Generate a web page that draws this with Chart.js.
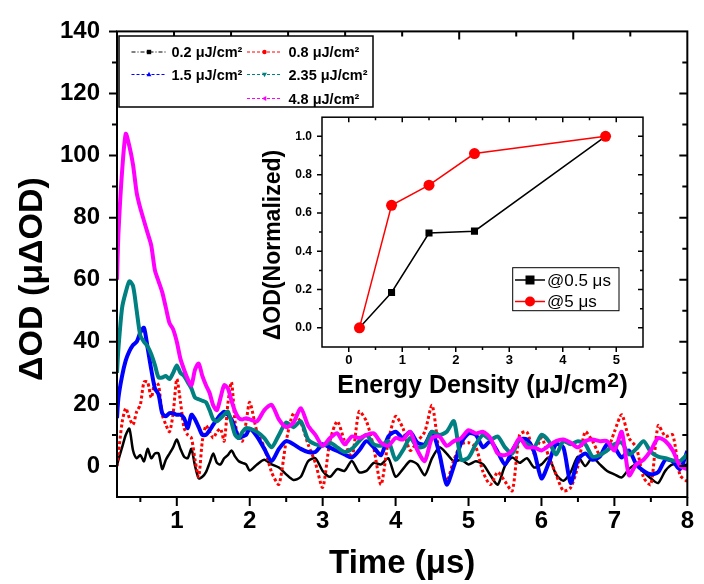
<!DOCTYPE html>
<html><head><meta charset="utf-8">
<script src="https://cdn.jsdelivr.net/npm/chart.js@4.4.0/dist/chart.umd.min.js"></script>
<style>
html,body{margin:0;padding:0;background:#fff;}
#wrap{position:relative;width:704px;height:584px;overflow:hidden;}
#main{position:absolute;left:0;top:0;width:704px;height:584px;}
#inset{position:absolute;left:240px;top:100px;width:420px;height:310px;}
</style></head><body>
<div id="wrap"><canvas id="main" width="704" height="584"></canvas><canvas id="inset" width="420" height="310"></canvas></div>
<script>
// ---------- data ----------
const time = [0.18,0.2,0.25,0.3,0.35,0.4,0.45,0.5,0.55,0.6,0.65,0.7,0.75,0.8,0.85,0.9,0.95,1.0,1.05,1.1,1.15,1.2,1.25,1.3,1.35,1.4,1.45,1.5,1.55,1.6,1.65,1.7,1.75,1.8,1.85,1.9,1.95,2.0,
 2.1,2.2,2.3,2.4,2.5,2.6,2.7,2.8,2.9,3.0,3.1,3.2,3.3,3.4,3.5,3.6,3.7,3.8,3.9,4.0,4.1,4.2,4.3,4.4,4.5,4.6,4.7,4.8,4.9,5.0,
 5.1,5.2,5.3,5.4,5.5,5.6,5.7,5.8,5.9,6.0,6.1,6.2,6.3,6.4,6.5,6.6,6.7,6.8,6.9,7.0,7.1,7.2,7.3,7.4,7.5,7.6,7.7,7.8,7.9,8.0];
const od_0_2 = [0,2,6,10,12,5,2.5,3.5,1.5,5.5,2.5,4,4,-1,2,4,6,8.5,5.5,3,2.5,5.5,0,-4,-3.5,-2,1,4,1,0.5,2.5,3.5,5,3,1.5,1,0.5,-1.5,
 0.5,2,0.5,-0.5,-2.7,-4.5,-3.5,1.5,2.5,-1.6,-3.5,-1,-1.6,1.6,-2,-1.6,1,0.5,2.5,-3.5,-1,1.6,0.5,-3,2.5,6,4,1.5,2,0.5,
 1.5,0.5,-3,-6,0,2.7,1,2.5,-0.5,0.5,2.7,-2.7,-4.8,-2,3,0,2.7,0.5,-1.6,-2.7,-3.7,-1,0.5,-2,-4,-5.5,-1.5,0.5,0,0.5];
const od_0_8 = [0,4,14,18.6,15.4,13.3,17.5,19.7,27,27,22,27,26,16.5,13.3,11,17,28,20.7,12.2,10,9,2,-3.5,8,13,11,9,11,12,8,20,27,14,9,8,14,20.5,
 11,6,-2,-5.9,8,17,14,7,1,-6.9,8,14.4,8,2.7,17.5,14.4,5.9,-6,8,16,12.2,5,8,11,19.5,4,-4.8,2,7,7.5,
 6,-2,-6,-2,-5,-8,10,11,4,9,3,-2.7,-8,-7,0,11,8,3.7,5,11,16.5,9,6,-3.7,-6,13,9.5,10,-3,-5];
const od_1_5 = [15.4,22,29,34,37,39,40,43,44.5,38,31,25,23,17,16,17,17,16.5,16.5,15.4,12.2,16.5,15,12.5,10,10,11.5,13.3,15,16.5,17.5,16.5,15,12,9,9.5,10,12,
 9.5,5.5,1.6,5.5,8,7,5.5,4.5,4.5,7,5.9,4.8,3.7,2.7,5,8,6,3.5,9.5,11,9,11,7.5,7,11,4,-6,0,7.5,10.5,
 10,6,8,4.5,0.5,5,8.5,8.5,4.5,-4,1,7,6,-5.5,2,4,2,3,7,6,2.7,5,0.5,-1.6,-2.7,-2,2,1.5,-1,4.8];
const od_2_35 = [30,38,51,56,59.5,58,50,42,40,38.5,36,32.5,28.5,28.5,29,28,30,32.4,30,29,27,25,22,21.5,21,20.5,18,15,14.4,15.4,16.5,17.5,14,10,9,11,12.2,12,
 11,9,6,10,14,12.5,14.4,8.5,7,6.5,7.5,6,4.5,5.5,8,10,7,6.5,8,2,5,9,6,6.5,11,10,11,14.4,2,2.7,
 7,10,8.5,9.5,6,4,8.5,7,6,10,8,3.7,8,7,8,7,3,3.5,5,7,7.5,3.7,5.5,8,4.5,3,2.5,1.8,1.6,3.7];
const od_4_8 = [60,75,95,107,103,97,88,83,79,75,71,63,59.5,56,51,46,44,40,34.5,31,28,26,31,33,29,26,23.5,19.5,18,22,26,25,21,17.5,15.4,15,15.4,15,
 14.4,18,19.7,15,12.5,14,18.6,13,10,6.5,9,10.5,7,9.5,9,10,10.5,7.5,6.5,9,8.5,11,5,1.6,9,9.5,6.5,8,9,11.5,
 10.5,11,9,4,3.5,5,9,6,6,5,6.5,8,8.5,7.5,6,8,8.5,8,8,5,11,-3,0.5,2,5,9,8,5,0,-1];
const energyLabels = ['0.2','0.8','1.5','2.35','4.8'];
const xTickLabels = [1,2,3,4,5,6,7,8];
const yTickLabels = [0,20,40,60,80,100,120,140];

// inset
const energy = [0.2,0.8,1.5,2.35,4.8];
const norm_at_0_5us = [0,0.185,0.495,0.505,1.0];
const norm_at_5us = [0,0.64,0.745,0.91,1.0];
const insetXTicks = [0,1,2,3,4,5];
const insetYTicks = [0.0,0.2,0.4,0.6,0.8,1.0];

// ---------- styles ----------
const FF = '"Liberation Sans", Arial, Helvetica, sans-serif';
const seriesValues = [od_0_2, od_0_8, od_1_5, od_2_35, od_4_8];
const seriesColors = ['#000000','#ff0000','#0000ff','#008080','#ff00ff'];
const seriesWidth = [2.5,3,4,4,4];
const seriesDash = [[],[3,2.5],[],[],[]];
const seriesOrder = [4,3,2,1,0];
const legendMarkers = ['square','circle','triUp','triDown','triLeft'];

function marker(ctx, kind, x, y, s){
  ctx.beginPath();
  if(kind==='square'){ctx.rect(x-s,y-s,2*s,2*s);}
  else if(kind==='circle'){ctx.arc(x,y,s,0,Math.PI*2);}
  else if(kind==='triUp'){ctx.moveTo(x,y-s*1.2);ctx.lineTo(x+s*1.1,y+s*0.8);ctx.lineTo(x-s*1.1,y+s*0.8);ctx.closePath();}
  else if(kind==='triDown'){ctx.moveTo(x,y+s*1.2);ctx.lineTo(x+s*1.1,y-s*0.8);ctx.lineTo(x-s*1.1,y-s*0.8);ctx.closePath();}
  else if(kind==='triLeft'){ctx.moveTo(x-s*1.2,y);ctx.lineTo(x+s*0.8,y-s*1.1);ctx.lineTo(x+s*0.8,y+s*1.1);ctx.closePath();}
  ctx.fill();
}

const mainDecor = {
  id:'mainDecor',
  afterDraw(chart){
    const {ctx, chartArea:a, scales} = chart;
    const x = scales.x, y = scales.y, xt = scales.xTop;
    ctx.save();
    ctx.strokeStyle='#000'; ctx.lineWidth=2;
    ctx.strokeRect(a.left, a.top, a.right-a.left, a.bottom-a.top);
    ctx.beginPath();
    for(let k=-1;k<=14;k++){
      const v=k*10, p=y.getPixelForValue(v), L=(k%2===0)?8:5;
      if(k>-1){ctx.moveTo(a.left,p);ctx.lineTo(a.left-L,p);}
      if(k>-1 && k<14){ctx.moveTo(a.right,p);ctx.lineTo(a.right-L,p);}
    }
    for(let k=1;k<=16;k++){
      const p=x.getPixelForValue(k/2), L=(k%2===0)?9:5;
      ctx.moveTo(p,a.bottom);ctx.lineTo(p,a.bottom+L);
    }
    for(let k=1;k<10;k++){
      const p=xt.getPixelForValue(k/2), L=(k%2===0)?8:5;
      ctx.moveTo(p,a.top);ctx.lineTo(p,a.top+L);
    }
    ctx.stroke();

    // axis titles
    ctx.fillStyle='#000';
    ctx.font='bold 33px '+FF;
    ctx.textAlign='center'; ctx.textBaseline='alphabetic';
    ctx.fillText('Time (μs)', (a.left+a.right)/2, 573);
    ctx.save();
    ctx.translate(42, 279); ctx.rotate(-Math.PI/2);
    ctx.font='bold 34px '+FF;
    ctx.fillText('ΔOD (μΔOD)', 0, 0);
    ctx.restore();

    // legend
    const L0={x:119,y:36,w:254,h:71};
    ctx.fillStyle='#fff'; ctx.fillRect(L0.x,L0.y,L0.w,L0.h);
    ctx.strokeStyle='#000'; ctx.lineWidth=1.5; ctx.strokeRect(L0.x,L0.y,L0.w,L0.h);
    const colX=[131.5,247], textX=[171.5,288.5], rowY=[52,74.5,98.5];
    const pos=[[0,0],[1,0],[0,1],[1,1],[1,2]];
    ctx.font='bold 14.5px '+FF; ctx.textAlign='left'; ctx.textBaseline='middle';
    for(let i=0;i<5;i++){
      const c=pos[i][0], r=pos[i][1], yy=rowY[r];
      ctx.strokeStyle=seriesColors[i]; ctx.lineWidth=1;
      ctx.setLineDash(i===0?[4,2,1,2]:[3,2]);
      ctx.beginPath(); ctx.moveTo(colX[c],yy); ctx.lineTo(colX[c]+35,yy); ctx.stroke();
      ctx.setLineDash([]);
      ctx.fillStyle=seriesColors[i];
      marker(ctx, legendMarkers[i], colX[c]+17.5, yy, 2.2);
      ctx.fillStyle='#000';
      ctx.fillText(energyLabels[i]+' μJ/cm²', textX[c], yy+1);
    }
    ctx.restore();
  }
};

new Chart(document.getElementById('main'), {
  type:'scatter',
  data:{
    datasets: seriesValues.map((vals,i)=>({
      label: energyLabels[i]+' μJ/cm²',
      data: time.map((t,j)=>({x:t,y:vals[j]})),
      showLine:true,
      borderColor: seriesColors[i],
      backgroundColor: seriesColors[i],
      borderWidth: seriesWidth[i],
      borderDash: seriesDash[i],
      pointRadius:0,
      tension:0.25,
      order: seriesOrder[i]
    }))
  },
  options:{
    responsive:false, animation:false,
    layout:{padding:{left:0,right:10,top:27,bottom:0}},
    plugins:{legend:{display:false}, tooltip:{enabled:false}},
    scales:{
      x:{type:'linear', position:'bottom', min:0.18, max:8,
         afterBuildTicks:(s)=>{s.ticks=xTickLabels.map(v=>({value:v}));},
         afterFit:(s)=>{s.height=87;},
         grid:{display:false, drawTicks:false}, border:{display:false},
         ticks:{color:'#000', font:{family:FF, size:24, weight:'bold'}, padding:10, maxRotation:0}},
      xTop:{type:'linear', position:'top', min:0, max:5, display:false},
      y:{type:'linear', position:'left', min:-10, max:140,
         afterBuildTicks:(s)=>{s.ticks=yTickLabels.map(v=>({value:v}));},
         afterFit:(s)=>{s.width=117;},
         grid:{display:false, drawTicks:false}, border:{display:false},
         ticks:{color:'#000', font:{family:FF, size:24, weight:'bold'}, padding:17}}
    }
  },
  plugins:[mainDecor]
});

// ---------- inset ----------
const insetDecor = {
  id:'insetDecor',
  afterDraw(chart){
    const {ctx, chartArea:a, scales} = chart;
    const x=scales.x, y=scales.y;
    ctx.save();
    ctx.strokeStyle='#000'; ctx.lineWidth=1.5;
    ctx.strokeRect(a.left,a.top,a.right-a.left,a.bottom-a.top);
    ctx.beginPath();
    for(let k=0;k<=10;k++){
      const p=y.getPixelForValue(k/10), L=(k%2===0)?5:3;
      ctx.moveTo(a.left,p);ctx.lineTo(a.left-L,p);
      ctx.moveTo(a.right,p);ctx.lineTo(a.right-L,p);
    }
    for(let k=0;k<=10;k++){
      const p=x.getPixelForValue(k/2), L=(k%2===0)?5:3;
      ctx.moveTo(p,a.bottom);ctx.lineTo(p,a.bottom+L);
      ctx.moveTo(p,a.top);ctx.lineTo(p,a.top+L);
    }
    ctx.stroke();
    // titles
    ctx.fillStyle='#000';
    ctx.save();
    ctx.translate(40,145); ctx.rotate(-Math.PI/2);
    ctx.font='bold 23px '+FF; ctx.textAlign='center'; ctx.textBaseline='alphabetic';
    ctx.fillText('ΔOD(Normalized)',0,0);
    ctx.restore();
    const p1='Energy Density (μJ/cm', p2='2', p3=')';
    ctx.font='bold 25px '+FF; const w1=ctx.measureText(p1).width, w3=ctx.measureText(p3).width;
    ctx.font='bold 21px '+FF; const w2=ctx.measureText(p2).width;
    const cx=(a.left+a.right)/2, total=w1+w2+w3+1; let sx=cx-total/2;
    ctx.textAlign='left'; ctx.textBaseline='alphabetic';
    ctx.font='bold 25px '+FF; ctx.fillText(p1,sx,293);
    ctx.font='bold 21px '+FF; ctx.fillText(p2,sx+w1+0.5,287);
    ctx.font='bold 25px '+FF; ctx.fillText(p3,sx+w1+w2+1,293);
    // legend
    const bx=272.7, by=167.7, bw=106.3, bh=43;
    ctx.fillStyle='#fff'; ctx.fillRect(bx,by,bw,bh);
    ctx.strokeStyle='#000'; ctx.lineWidth=1; ctx.strokeRect(bx,by,bw,bh);
    const rows=[{y:180,c:'#000',m:'square',t:'@0.5 μs'},{y:201.5,c:'#ff0000',m:'circle',t:'@5 μs'}];
    ctx.font='17px '+FF; ctx.textBaseline='middle';
    rows.forEach(r=>{
      ctx.strokeStyle=r.c; ctx.lineWidth=1.5;
      ctx.beginPath(); ctx.moveTo(275,r.y); ctx.lineTo(305,r.y); ctx.stroke();
      ctx.fillStyle=r.c; marker(ctx,r.m,290,r.y,r.m==='square'?4.5:5);
      ctx.fillStyle='#000'; ctx.fillText(r.t,307,r.y+1);
    });
    ctx.restore();
  }
};

new Chart(document.getElementById('inset'), {
  type:'scatter',
  data:{datasets:[
    {label:'@5 μs', data: energy.map((e,i)=>({x:e,y:norm_at_5us[i]})), showLine:true,
     borderColor:'#ff0000', backgroundColor:'#ff0000', borderWidth:1.5, pointStyle:'circle', pointRadius:5.5, pointBorderWidth:0},
    {label:'@0.5 μs', data: energy.map((e,i)=>({x:e,y:norm_at_0_5us[i]})), showLine:true,
     borderColor:'#000000', backgroundColor:'#000000', borderWidth:1.5, pointStyle:'rect', pointRadius:5, pointBorderWidth:0}
  ]},
  options:{
    responsive:false, animation:false,
    layout:{padding:{left:0,right:17,top:14,bottom:0}},
    plugins:{legend:{display:false}, tooltip:{enabled:false}},
    scales:{
      x:{type:'linear', min:-0.5, max:5.5,
         afterBuildTicks:(s)=>{s.ticks=insetXTicks.map(v=>({value:v}));},
         afterFit:(s)=>{s.height=63;},
         grid:{display:false, drawTicks:false}, border:{display:false},
         ticks:{color:'#000', font:{family:FF,size:13,weight:'bold'}, padding:6, maxRotation:0}},
      y:{type:'linear', min:-0.1, max:1.1,
         afterBuildTicks:(s)=>{s.ticks=insetYTicks.map(v=>({value:v}));},
         afterFit:(s)=>{s.width=82;},
         grid:{display:false, drawTicks:false}, border:{display:false},
         ticks:{color:'#000', font:{family:FF,size:12,weight:'bold'}, padding:10, callback:(v)=>Number(v).toFixed(1)}}
    }
  },
  plugins:[insetDecor]
});
</script>
</body></html>
